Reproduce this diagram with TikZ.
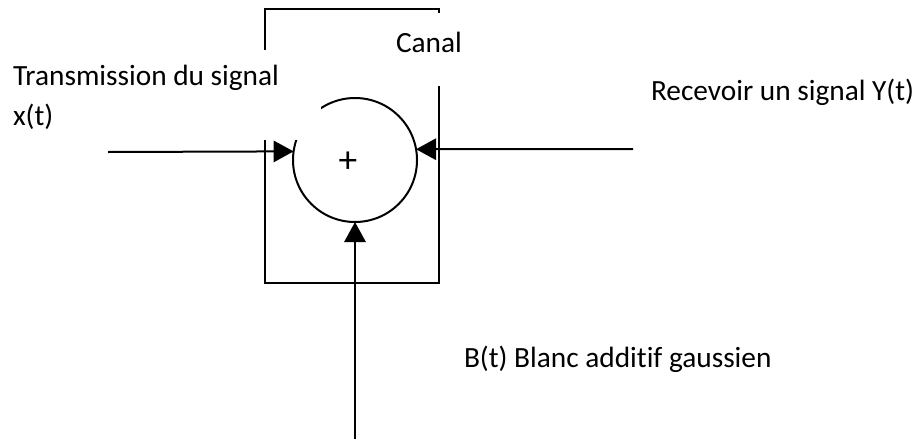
\documentclass[tikz,border=0pt]{standalone}
\usepackage{fontspec}
\setmainfont{Carlito}[Ligatures={NoCommon,NoContextual}]
\usetikzlibrary{arrows.meta}
\begin{document}
\begin{tikzpicture}[x=0.75pt, y=-0.75pt, line width=1.5pt,
  sig/.style={-{Triangle[length=15pt, width=16pt]}},
  lbl/.style={font=\fontsize{22pt}{30pt}\selectfont, inner sep=0pt, anchor=base west},
  mask/.style={lbl, fill=white, inner xsep=9pt}]
  \useasboundingbox (0,0) rectangle (916,439);
  % Canal block and summing point
  \draw (265,9) rectangle (439,283);
  \node[circle, draw, minimum size=93pt, inner sep=0pt, outer sep=0pt] (sum) at (355,160) {};
  \node[font=\fontsize{28pt}{28pt}\selectfont, inner sep=0pt] (plus) at (348,162) {+};

  % Inputs
  \coordinate (xin) at (108,152);
  \coordinate (yout) at (633,149);
  \coordinate (bin) at (355,439);
  \draw[sig] (xin) -- (sum.172.6);
  \draw[sig] (yout) -- (sum.10.2);
  \draw[sig] (bin) -- (sum.south);

  % Labels
  \node[mask, text width=222pt, align=flush left, text height=26.25pt, text depth=41.25pt] (tx) at (0,85) {Transmission du signal\\x(t)};
  \node[mask, text height=29.25pt, text depth=25.5pt] (canal) at (383,52) {Canal};
  \node[lbl] (rx) at (650,100) {Recevoir un signal Y(t)};
  \node[lbl] (noise) at (463,367) {B(t) Blanc additif gaussien};
\end{tikzpicture}
\end{document}
